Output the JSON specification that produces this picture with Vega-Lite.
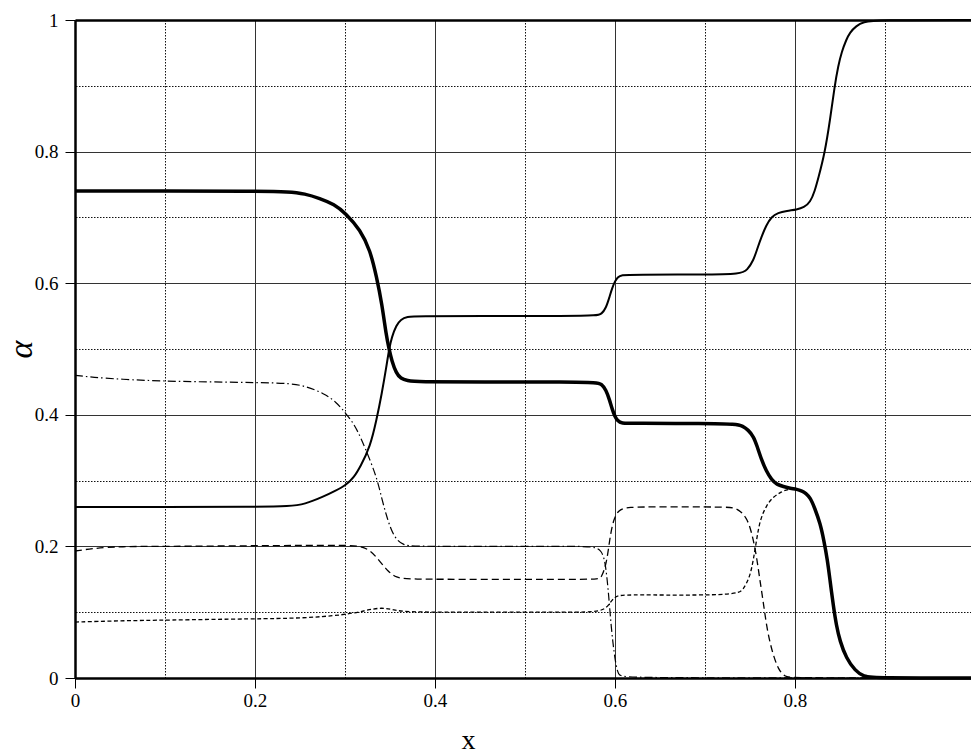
{
  "$schema": "https://vega.github.io/schema/vega-lite/v6.json",
  "width": 896,
  "height": 658,
  "autosize": {"type": "none"},
  "padding": {"left": 75, "top": 20, "right": 0, "bottom": 78},
  "background": "white",
  "config": {
    "font": "Liberation Serif",
    "view": {"stroke": null}
  },
  "data": {
    "values": [
      {"s": "a1", "x": 0, "alpha": 0.74},
      {"s": "a1", "x": 0.1, "alpha": 0.74},
      {"s": "a1", "x": 0.2, "alpha": 0.74},
      {"s": "a1", "x": 0.239, "alpha": 0.739},
      {"s": "a1", "x": 0.255, "alpha": 0.736},
      {"s": "a1", "x": 0.272, "alpha": 0.729},
      {"s": "a1", "x": 0.288, "alpha": 0.72},
      {"s": "a1", "x": 0.301, "alpha": 0.706},
      {"s": "a1", "x": 0.317, "alpha": 0.681},
      {"s": "a1", "x": 0.328, "alpha": 0.65},
      {"s": "a1", "x": 0.335, "alpha": 0.61},
      {"s": "a1", "x": 0.341, "alpha": 0.569},
      {"s": "a1", "x": 0.346, "alpha": 0.519},
      {"s": "a1", "x": 0.349, "alpha": 0.5},
      {"s": "a1", "x": 0.352, "alpha": 0.482},
      {"s": "a1", "x": 0.357, "alpha": 0.463},
      {"s": "a1", "x": 0.362, "alpha": 0.455},
      {"s": "a1", "x": 0.369, "alpha": 0.452},
      {"s": "a1", "x": 0.38, "alpha": 0.45},
      {"s": "a1", "x": 0.45, "alpha": 0.45},
      {"s": "a1", "x": 0.55, "alpha": 0.45},
      {"s": "a1", "x": 0.58, "alpha": 0.449},
      {"s": "a1", "x": 0.585, "alpha": 0.447},
      {"s": "a1", "x": 0.59, "alpha": 0.438},
      {"s": "a1", "x": 0.594, "alpha": 0.4225},
      {"s": "a1", "x": 0.597, "alpha": 0.408},
      {"s": "a1", "x": 0.6, "alpha": 0.397},
      {"s": "a1", "x": 0.603, "alpha": 0.391},
      {"s": "a1", "x": 0.607, "alpha": 0.387},
      {"s": "a1", "x": 0.62, "alpha": 0.387},
      {"s": "a1", "x": 0.7, "alpha": 0.387},
      {"s": "a1", "x": 0.735, "alpha": 0.386},
      {"s": "a1", "x": 0.742, "alpha": 0.383},
      {"s": "a1", "x": 0.748, "alpha": 0.377},
      {"s": "a1", "x": 0.754, "alpha": 0.367},
      {"s": "a1", "x": 0.758, "alpha": 0.352},
      {"s": "a1", "x": 0.763, "alpha": 0.331},
      {"s": "a1", "x": 0.768, "alpha": 0.315},
      {"s": "a1", "x": 0.774, "alpha": 0.301},
      {"s": "a1", "x": 0.78, "alpha": 0.294},
      {"s": "a1", "x": 0.787, "alpha": 0.291},
      {"s": "a1", "x": 0.795, "alpha": 0.288},
      {"s": "a1", "x": 0.802, "alpha": 0.287},
      {"s": "a1", "x": 0.808, "alpha": 0.284},
      {"s": "a1", "x": 0.812, "alpha": 0.281},
      {"s": "a1", "x": 0.817, "alpha": 0.274},
      {"s": "a1", "x": 0.822, "alpha": 0.258},
      {"s": "a1", "x": 0.828, "alpha": 0.235},
      {"s": "a1", "x": 0.832, "alpha": 0.21},
      {"s": "a1", "x": 0.836, "alpha": 0.18},
      {"s": "a1", "x": 0.839, "alpha": 0.148},
      {"s": "a1", "x": 0.8426, "alpha": 0.11},
      {"s": "a1", "x": 0.846, "alpha": 0.08},
      {"s": "a1", "x": 0.85, "alpha": 0.056},
      {"s": "a1", "x": 0.857, "alpha": 0.03},
      {"s": "a1", "x": 0.867, "alpha": 0.011},
      {"s": "a1", "x": 0.876, "alpha": 0.002},
      {"s": "a1", "x": 0.89, "alpha": 0},
      {"s": "a1", "x": 0.9956, "alpha": 0},

      {"s": "a2", "x": 0, "alpha": 0.26},
      {"s": "a2", "x": 0.1, "alpha": 0.26},
      {"s": "a2", "x": 0.2, "alpha": 0.26},
      {"s": "a2", "x": 0.239, "alpha": 0.261},
      {"s": "a2", "x": 0.255, "alpha": 0.264},
      {"s": "a2", "x": 0.276, "alpha": 0.2755},
      {"s": "a2", "x": 0.29, "alpha": 0.285},
      {"s": "a2", "x": 0.301, "alpha": 0.293},
      {"s": "a2", "x": 0.31, "alpha": 0.305},
      {"s": "a2", "x": 0.317, "alpha": 0.321},
      {"s": "a2", "x": 0.328, "alpha": 0.3515},
      {"s": "a2", "x": 0.335, "alpha": 0.392},
      {"s": "a2", "x": 0.341, "alpha": 0.433},
      {"s": "a2", "x": 0.346, "alpha": 0.473},
      {"s": "a2", "x": 0.349, "alpha": 0.5},
      {"s": "a2", "x": 0.352, "alpha": 0.518},
      {"s": "a2", "x": 0.357, "alpha": 0.536},
      {"s": "a2", "x": 0.362, "alpha": 0.545},
      {"s": "a2", "x": 0.369, "alpha": 0.549},
      {"s": "a2", "x": 0.38, "alpha": 0.55},
      {"s": "a2", "x": 0.45, "alpha": 0.55},
      {"s": "a2", "x": 0.55, "alpha": 0.55},
      {"s": "a2", "x": 0.58, "alpha": 0.551},
      {"s": "a2", "x": 0.585, "alpha": 0.553},
      {"s": "a2", "x": 0.59, "alpha": 0.562},
      {"s": "a2", "x": 0.594, "alpha": 0.5795},
      {"s": "a2", "x": 0.597, "alpha": 0.593},
      {"s": "a2", "x": 0.6, "alpha": 0.603},
      {"s": "a2", "x": 0.603, "alpha": 0.609},
      {"s": "a2", "x": 0.607, "alpha": 0.6125},
      {"s": "a2", "x": 0.62, "alpha": 0.613},
      {"s": "a2", "x": 0.7, "alpha": 0.613},
      {"s": "a2", "x": 0.74, "alpha": 0.614},
      {"s": "a2", "x": 0.747, "alpha": 0.62},
      {"s": "a2", "x": 0.754, "alpha": 0.635},
      {"s": "a2", "x": 0.758, "alpha": 0.652},
      {"s": "a2", "x": 0.763, "alpha": 0.671},
      {"s": "a2", "x": 0.768, "alpha": 0.688},
      {"s": "a2", "x": 0.774, "alpha": 0.701},
      {"s": "a2", "x": 0.781, "alpha": 0.707},
      {"s": "a2", "x": 0.791, "alpha": 0.71},
      {"s": "a2", "x": 0.802, "alpha": 0.712},
      {"s": "a2", "x": 0.81, "alpha": 0.715},
      {"s": "a2", "x": 0.817, "alpha": 0.723},
      {"s": "a2", "x": 0.822, "alpha": 0.74},
      {"s": "a2", "x": 0.826, "alpha": 0.76},
      {"s": "a2", "x": 0.833, "alpha": 0.797},
      {"s": "a2", "x": 0.839, "alpha": 0.848},
      {"s": "a2", "x": 0.844, "alpha": 0.899},
      {"s": "a2", "x": 0.848, "alpha": 0.93},
      {"s": "a2", "x": 0.852, "alpha": 0.952},
      {"s": "a2", "x": 0.857, "alpha": 0.97},
      {"s": "a2", "x": 0.861, "alpha": 0.981},
      {"s": "a2", "x": 0.868, "alpha": 0.991},
      {"s": "a2", "x": 0.876, "alpha": 0.997},
      {"s": "a2", "x": 0.89, "alpha": 1},
      {"s": "a2", "x": 0.9956, "alpha": 1},

      {"s": "a3", "x": 0, "alpha": 0.46},
      {"s": "a3", "x": 0.02, "alpha": 0.457},
      {"s": "a3", "x": 0.05, "alpha": 0.454},
      {"s": "a3", "x": 0.1, "alpha": 0.451},
      {"s": "a3", "x": 0.15, "alpha": 0.45},
      {"s": "a3", "x": 0.2, "alpha": 0.449},
      {"s": "a3", "x": 0.24, "alpha": 0.448},
      {"s": "a3", "x": 0.257, "alpha": 0.443},
      {"s": "a3", "x": 0.276, "alpha": 0.433},
      {"s": "a3", "x": 0.29, "alpha": 0.42},
      {"s": "a3", "x": 0.301, "alpha": 0.402},
      {"s": "a3", "x": 0.31, "alpha": 0.386},
      {"s": "a3", "x": 0.317, "alpha": 0.367},
      {"s": "a3", "x": 0.328, "alpha": 0.331},
      {"s": "a3", "x": 0.336, "alpha": 0.301},
      {"s": "a3", "x": 0.341, "alpha": 0.272},
      {"s": "a3", "x": 0.346, "alpha": 0.247},
      {"s": "a3", "x": 0.351, "alpha": 0.226},
      {"s": "a3", "x": 0.357, "alpha": 0.21},
      {"s": "a3", "x": 0.365, "alpha": 0.202},
      {"s": "a3", "x": 0.375, "alpha": 0.2},
      {"s": "a3", "x": 0.45, "alpha": 0.2},
      {"s": "a3", "x": 0.55, "alpha": 0.2},
      {"s": "a3", "x": 0.578, "alpha": 0.2},
      {"s": "a3", "x": 0.585, "alpha": 0.193},
      {"s": "a3", "x": 0.589, "alpha": 0.179},
      {"s": "a3", "x": 0.5926, "alpha": 0.134},
      {"s": "a3", "x": 0.596, "alpha": 0.073},
      {"s": "a3", "x": 0.6, "alpha": 0.027},
      {"s": "a3", "x": 0.6037, "alpha": 0.003},
      {"s": "a3", "x": 0.61, "alpha": 0},
      {"s": "a3", "x": 0.9956, "alpha": 0},

      {"s": "a4", "x": 0, "alpha": 0.193},
      {"s": "a4", "x": 0.02, "alpha": 0.197},
      {"s": "a4", "x": 0.05, "alpha": 0.2},
      {"s": "a4", "x": 0.1, "alpha": 0.2},
      {"s": "a4", "x": 0.2, "alpha": 0.201},
      {"s": "a4", "x": 0.3, "alpha": 0.202},
      {"s": "a4", "x": 0.317, "alpha": 0.2006},
      {"s": "a4", "x": 0.328, "alpha": 0.1945},
      {"s": "a4", "x": 0.339, "alpha": 0.177},
      {"s": "a4", "x": 0.348, "alpha": 0.1616},
      {"s": "a4", "x": 0.357, "alpha": 0.1525},
      {"s": "a4", "x": 0.369, "alpha": 0.15},
      {"s": "a4", "x": 0.45, "alpha": 0.15},
      {"s": "a4", "x": 0.55, "alpha": 0.15},
      {"s": "a4", "x": 0.5815, "alpha": 0.15},
      {"s": "a4", "x": 0.585, "alpha": 0.1525},
      {"s": "a4", "x": 0.5907, "alpha": 0.174},
      {"s": "a4", "x": 0.594, "alpha": 0.21},
      {"s": "a4", "x": 0.598, "alpha": 0.24},
      {"s": "a4", "x": 0.6037, "alpha": 0.255},
      {"s": "a4", "x": 0.613, "alpha": 0.26},
      {"s": "a4", "x": 0.65, "alpha": 0.26},
      {"s": "a4", "x": 0.72, "alpha": 0.26},
      {"s": "a4", "x": 0.733, "alpha": 0.259},
      {"s": "a4", "x": 0.74, "alpha": 0.253},
      {"s": "a4", "x": 0.746, "alpha": 0.243},
      {"s": "a4", "x": 0.75, "alpha": 0.23},
      {"s": "a4", "x": 0.7537, "alpha": 0.21},
      {"s": "a4", "x": 0.7574, "alpha": 0.184},
      {"s": "a4", "x": 0.761, "alpha": 0.149},
      {"s": "a4", "x": 0.765, "alpha": 0.1135},
      {"s": "a4", "x": 0.7685, "alpha": 0.078},
      {"s": "a4", "x": 0.774, "alpha": 0.0425},
      {"s": "a4", "x": 0.7815, "alpha": 0.012},
      {"s": "a4", "x": 0.789, "alpha": 0.002},
      {"s": "a4", "x": 0.795, "alpha": 0},
      {"s": "a4", "x": 0.9956, "alpha": 0},

      {"s": "a5", "x": 0, "alpha": 0.085},
      {"s": "a5", "x": 0.05, "alpha": 0.087},
      {"s": "a5", "x": 0.1, "alpha": 0.088},
      {"s": "a5", "x": 0.2, "alpha": 0.09},
      {"s": "a5", "x": 0.25, "alpha": 0.0907},
      {"s": "a5", "x": 0.3, "alpha": 0.0957},
      {"s": "a5", "x": 0.324, "alpha": 0.103},
      {"s": "a5", "x": 0.341, "alpha": 0.1074},
      {"s": "a5", "x": 0.354, "alpha": 0.1033},
      {"s": "a5", "x": 0.369, "alpha": 0.1},
      {"s": "a5", "x": 0.45, "alpha": 0.1},
      {"s": "a5", "x": 0.55, "alpha": 0.1},
      {"s": "a5", "x": 0.587, "alpha": 0.1},
      {"s": "a5", "x": 0.594, "alpha": 0.1135},
      {"s": "a5", "x": 0.6, "alpha": 0.1236},
      {"s": "a5", "x": 0.607, "alpha": 0.1266},
      {"s": "a5", "x": 0.65, "alpha": 0.126},
      {"s": "a5", "x": 0.735, "alpha": 0.126},
      {"s": "a5", "x": 0.7426, "alpha": 0.134},
      {"s": "a5", "x": 0.75, "alpha": 0.154},
      {"s": "a5", "x": 0.7537, "alpha": 0.179},
      {"s": "a5", "x": 0.7574, "alpha": 0.21},
      {"s": "a5", "x": 0.761, "alpha": 0.24},
      {"s": "a5", "x": 0.7685, "alpha": 0.263},
      {"s": "a5", "x": 0.776, "alpha": 0.2755},
      {"s": "a5", "x": 0.785, "alpha": 0.283},
      {"s": "a5", "x": 0.792, "alpha": 0.287},
      {"s": "a5", "x": 0.802, "alpha": 0.287},
      {"s": "a5", "x": 0.808, "alpha": 0.284},
      {"s": "a5", "x": 0.812, "alpha": 0.281},
      {"s": "a5", "x": 0.817, "alpha": 0.274},
      {"s": "a5", "x": 0.822, "alpha": 0.258},
      {"s": "a5", "x": 0.828, "alpha": 0.235},
      {"s": "a5", "x": 0.832, "alpha": 0.21},
      {"s": "a5", "x": 0.836, "alpha": 0.18},
      {"s": "a5", "x": 0.839, "alpha": 0.148},
      {"s": "a5", "x": 0.8426, "alpha": 0.11},
      {"s": "a5", "x": 0.846, "alpha": 0.08},
      {"s": "a5", "x": 0.85, "alpha": 0.056},
      {"s": "a5", "x": 0.857, "alpha": 0.03},
      {"s": "a5", "x": 0.867, "alpha": 0.011},
      {"s": "a5", "x": 0.876, "alpha": 0.002},
      {"s": "a5", "x": 0.89, "alpha": 0},
      {"s": "a5", "x": 0.9956, "alpha": 0}
    ]
  },
  "resolve": {"axis": {"x": "independent", "y": "independent"}},
  "layer": [
    {
      "description": "Invisible layer carrying the dotted minor grid and the top frame line",
      "mark": {"type": "point", "opacity": 0},
      "encoding": {
        "x": {
          "field": "x", "type": "quantitative",
          "scale": {"domain": [0, 0.9956], "nice": false, "zero": false},
          "axis": {
            "orient": "top", "values": [0.1, 0.3, 0.5, 0.7, 0.9],
            "labels": false, "ticks": false, "title": null,
            "domain": true, "domainColor": "#000", "domainWidth": 2.5,
            "grid": true, "gridColor": "#111", "gridWidth": 1, "gridOpacity": 1,
            "gridDash": [1.5, 1.5]
          }
        },
        "y": {
          "field": "alpha", "type": "quantitative",
          "scale": {"domain": [0, 1], "nice": false, "zero": false},
          "axis": {
            "orient": "right", "values": [0.1, 0.3, 0.5, 0.7, 0.9],
            "labels": false, "ticks": false, "title": null, "domain": false,
            "grid": true, "gridColor": "#111", "gridWidth": 1, "gridOpacity": 1,
            "gridDash": [1.5, 1.5]
          }
        }
      }
    },
    {
      "transform": [{"filter": "datum.s == 'a3'"}],
      "mark": {"type": "line", "interpolate": "basis", "color": "#000", "strokeWidth": 1.2, "strokeDash": [8, 3, 1.5, 3]},
      "encoding": {
        "x": {
          "field": "x", "type": "quantitative",
          "axis": {
            "orient": "bottom", "values": [0, 0.2, 0.4, 0.6, 0.8], "format": "~g",
            "grid": true, "gridColor": "#333", "gridWidth": 1, "gridOpacity": 1,
            "domain": true, "domainColor": "#000", "domainWidth": 2.5,
            "ticks": true, "tickSize": 10, "tickColor": "#000", "tickWidth": 1,
            "labelFont": "Liberation Serif", "labelFontSize": 19, "labelColor": "#000",
            "labelPadding": 3, "labelOverlap": false, "labelFlush": false,
            "title": "x", "titleFont": "Liberation Serif", "titleFontWeight": "normal",
            "titleColor": "#000", "titleFontSize": 28, "titleX": 393, "titleY": 62,
            "titleBaseline": "middle", "titleAlign": "center"
          }
        },
        "y": {
          "field": "alpha", "type": "quantitative",
          "axis": {
            "orient": "left", "values": [0, 0.2, 0.4, 0.6, 0.8, 1], "format": "~g",
            "grid": true, "gridColor": "#333", "gridWidth": 1, "gridOpacity": 1,
            "domain": true, "domainColor": "#000", "domainWidth": 2.5,
            "ticks": true, "tickSize": 10, "tickColor": "#000", "tickWidth": 1,
            "labelFont": "Liberation Serif", "labelFontSize": 19, "labelColor": "#000",
            "labelPadding": 7, "labelOverlap": false, "labelFlush": false,
            "title": "α", "titleFont": "Liberation Serif", "titleFontWeight": "normal",
            "titleColor": "#000", "titleFontSize": 34, "titleFontStyle": "italic",
            "titleX": -54, "titleY": 329, "titleAngle": -90,
            "titleBaseline": "middle", "titleAlign": "center"
          }
        }
      }
    },
    {
      "transform": [{"filter": "datum.s == 'a4'"}],
      "mark": {"type": "line", "interpolate": "basis", "color": "#000", "strokeWidth": 1.3, "strokeDash": [7, 4]},
      "encoding": {
        "x": {"field": "x", "type": "quantitative", "axis": null},
        "y": {"field": "alpha", "type": "quantitative", "axis": null}
      }
    },
    {
      "transform": [{"filter": "datum.s == 'a5'"}],
      "mark": {"type": "line", "interpolate": "basis", "color": "#000", "strokeWidth": 1.3, "strokeDash": [4, 2.5]},
      "encoding": {
        "x": {"field": "x", "type": "quantitative", "axis": null},
        "y": {"field": "alpha", "type": "quantitative", "axis": null}
      }
    },
    {
      "transform": [{"filter": "datum.s == 'a2'"}],
      "mark": {"type": "line", "interpolate": "basis", "color": "#000", "strokeWidth": 2},
      "encoding": {
        "x": {"field": "x", "type": "quantitative", "axis": null},
        "y": {"field": "alpha", "type": "quantitative", "axis": null}
      }
    },
    {
      "transform": [{"filter": "datum.s == 'a1'"}],
      "mark": {"type": "line", "interpolate": "basis", "color": "#000", "strokeWidth": 3.5},
      "encoding": {
        "x": {"field": "x", "type": "quantitative", "axis": null},
        "y": {"field": "alpha", "type": "quantitative", "axis": null}
      }
    }
  ]
}
